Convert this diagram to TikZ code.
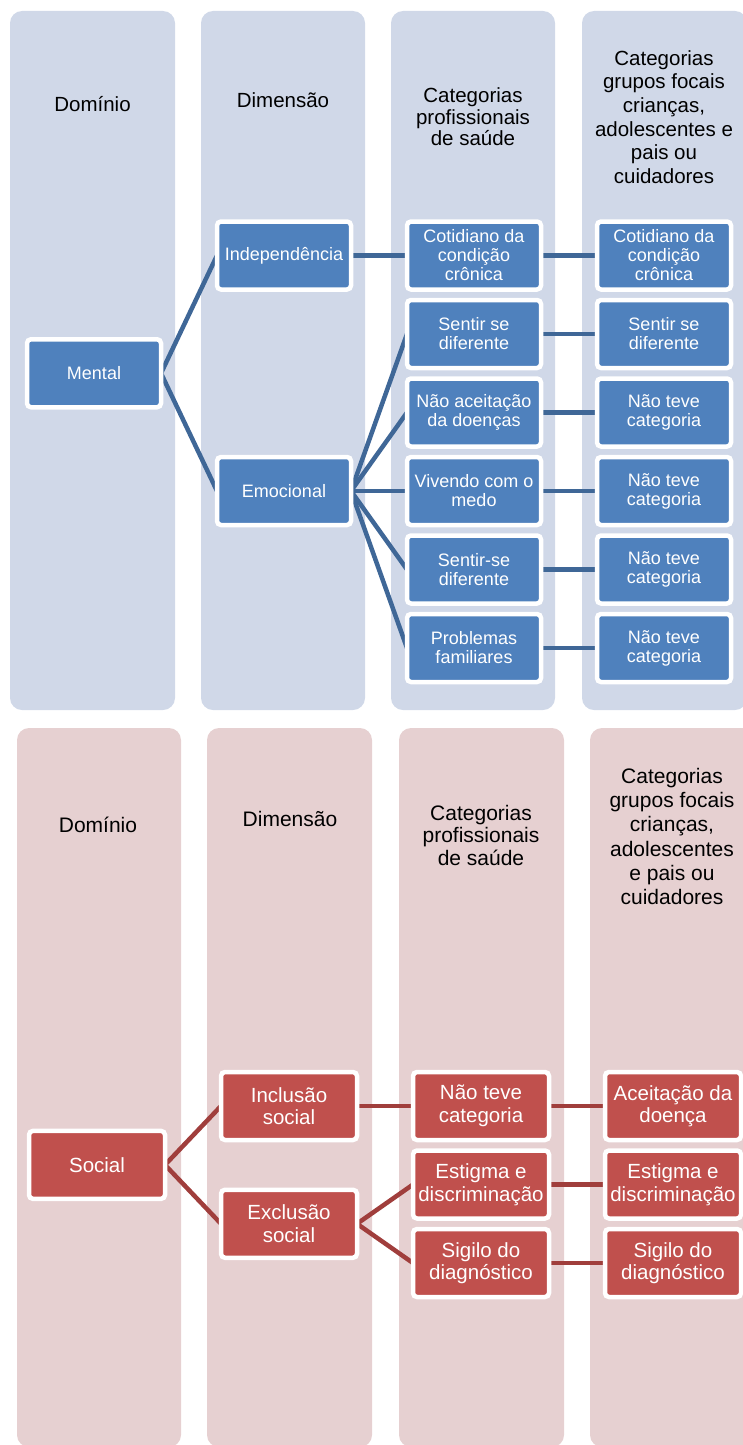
\documentclass[tikz,border=0pt]{standalone}
\usepackage{fontspec}
\setmainfont{Liberation Sans}
\usepackage{tikz}
\usetikzlibrary{positioning,calc,backgrounds}
\definecolor{boxblue}{RGB}{79,129,189}
\definecolor{panelblue}{RGB}{208,216,232}
\definecolor{lineblue}{RGB}{63,103,151}
\definecolor{boxred}{RGB}{192,80,77}
\definecolor{panelred}{RGB}{230,208,209}
\definecolor{linered}{RGB}{160,62,60}

\begin{document}
\begin{tikzpicture}[
    x=1pt,y=-1pt,
    node distance=10.5pt and 56pt,
    colA/.style={rounded corners=12pt,fill=panelblue},
    colB/.style={rounded corners=12pt,fill=panelred},
    head/.style={align=center,font=\fontsize{20.5}{21.5}\selectfont},
    bbox/.style={rectangle,rounded corners=4pt,draw=white,line width=4.5pt,fill=boxblue,
                 text=white,align=center,minimum width=134pt,minimum height=68pt,
                 inner sep=2pt,outer sep=0pt,font=\fontsize{18}{19}\selectfont},
    rbox/.style={bbox,fill=boxred,minimum width=136pt,font=\fontsize{20.5}{22.5}\selectfont},
    lnb/.style={line width=4.5pt,lineblue},
    lnr/.style={line width=4.5pt,linered}
  ]
  \useasboundingbox (0,0) rectangle (743,1445);

  \begin{scope}[on background layer]
    \fill[colA] (10,11) rectangle (175,710);
    \fill[colA] (201,11) rectangle (365,710);
    \fill[colA] (391,11) rectangle (555,710);
    \fill[colA] (582,11) rectangle (747,710);
    \fill[colB] (17,728) rectangle (181,1447);
    \fill[colB] (207,728) rectangle (372,1447);
    \fill[colB] (399,728) rectangle (564,1447);
    \fill[colB] (590,728) rectangle (755,1447);
  \end{scope}

  \node[head] (h1) at (92.5,104) {Domínio};
  \node[head] (h2) at (283,100) {Dimensão};
  \node[head] (h3) at (473,117) {Categorias\\profissionais\\de saúde};
  \node[head,font=\fontsize{20.5}{23.6}\selectfont] (h4) at (664,117)
       {Categorias\\grupos focais\\crianças,\\adolescentes e\\pais ou\\cuidadores};

  \node[bbox] (c1) at (474,255.5) {Cotidiano da\\condição\\crônica};
  \node[bbox,below=of c1] (c2) {Sentir se\\diferente};
  \node[bbox,below=of c2] (c3) {Não aceitação\\da doenças};
  \node[bbox,below=of c3] (c4) {Vivendo com o\\medo};
  \node[bbox,below=of c4] (c5) {Sentir-se\\diferente};
  \node[bbox,below=of c5] (c6) {Problemas\\familiares};

  \node[bbox,right=of c1] (f1) {Cotidiano da\\condição\\crônica};
  \node[bbox,right=of c2] (f2) {Sentir se\\diferente};
  \node[bbox,right=of c3] (f3) {Não teve\\categoria};
  \node[bbox,right=of c4] (f4) {Não teve\\categoria};
  \node[bbox,right=of c5] (f5) {Não teve\\categoria};
  \node[bbox,right=of c6] (f6) {Não teve\\categoria};

  \node[bbox,left=of c1] (indep) {Independência};
  \node[bbox,left=of c4] (emoc) {Emocional};
  \coordinate (mmid) at ($(indep.west)!0.5!(emoc.west)$);
  \node[bbox,left=of mmid] (mental) {Mental};

  \node[head,font=\fontsize{21}{23}\selectfont] (k1) at (98,825) {Domínio};
  \node[head,font=\fontsize{21}{23}\selectfont] (k2) at (290,819) {Dimensão};
  \node[head,font=\fontsize{21}{22.5}\selectfont] (k3) at (481,835) {Categorias\\profissionais\\de saúde};
  \node[head,font=\fontsize{21}{24.2}\selectfont] (k4) at (672,836.5)
       {Categorias\\grupos focais\\crianças,\\adolescentes\\e pais ou\\cuidadores};

  \node[rbox] (n1) at (481,1106) {Não teve\\categoria};
  \node[rbox,below=of n1] (n2) {Estigma e\\discriminação};
  \node[rbox,below=of n2] (n3) {Sigilo do\\diagnóstico};

  \node[rbox,right=of n1] (g1) {Aceitação da\\doença};
  \node[rbox,right=of n2] (g2) {Estigma e\\discriminação};
  \node[rbox,right=of n3] (g3) {Sigilo do\\diagnóstico};

  \node[rbox,left=of n1] (incl) {Inclusão\\social};
  \coordinate (emid) at ($(n2.west)!0.5!(n3.west)$);
  \node[rbox,left=of emid] (excl) {Exclusão\\social};
  \coordinate (smid) at ($(incl.west)!0.5!(excl.west)$);
  \node[rbox,left=of smid] (social) {Social};

  \begin{scope}[on background layer]
    \draw[lnb] (mental.east) -- (indep.west);
    \draw[lnb] (mental.east) -- (emoc.west);
    \draw[lnb] (indep.east) -- (c1.west);
    \draw[lnb] (emoc.east) -- (c2.west);
    \draw[lnb] (emoc.east) -- (c3.west);
    \draw[lnb] (emoc.east) -- (c4.west);
    \draw[lnb] (emoc.east) -- (c5.west);
    \draw[lnb] (emoc.east) -- (c6.west);
    \draw[lnb] (c1.east) -- (f1.west);
    \draw[lnb] (c2.east) -- (f2.west);
    \draw[lnb] (c3.east) -- (f3.west);
    \draw[lnb] (c4.east) -- (f4.west);
    \draw[lnb] (c5.east) -- (f5.west);
    \draw[lnb] (c6.east) -- (f6.west);

    \draw[lnr] (social.east) -- (incl.west);
    \draw[lnr] (social.east) -- (excl.west);
    \draw[lnr] (incl.east) -- (n1.west);
    \draw[lnr] (excl.east) -- (n2.west);
    \draw[lnr] (excl.east) -- (n3.west);
    \draw[lnr] (n1.east) -- (g1.west);
    \draw[lnr] (n2.east) -- (g2.west);
    \draw[lnr] (n3.east) -- (g3.west);
  \end{scope}
\end{tikzpicture}
\end{document}
